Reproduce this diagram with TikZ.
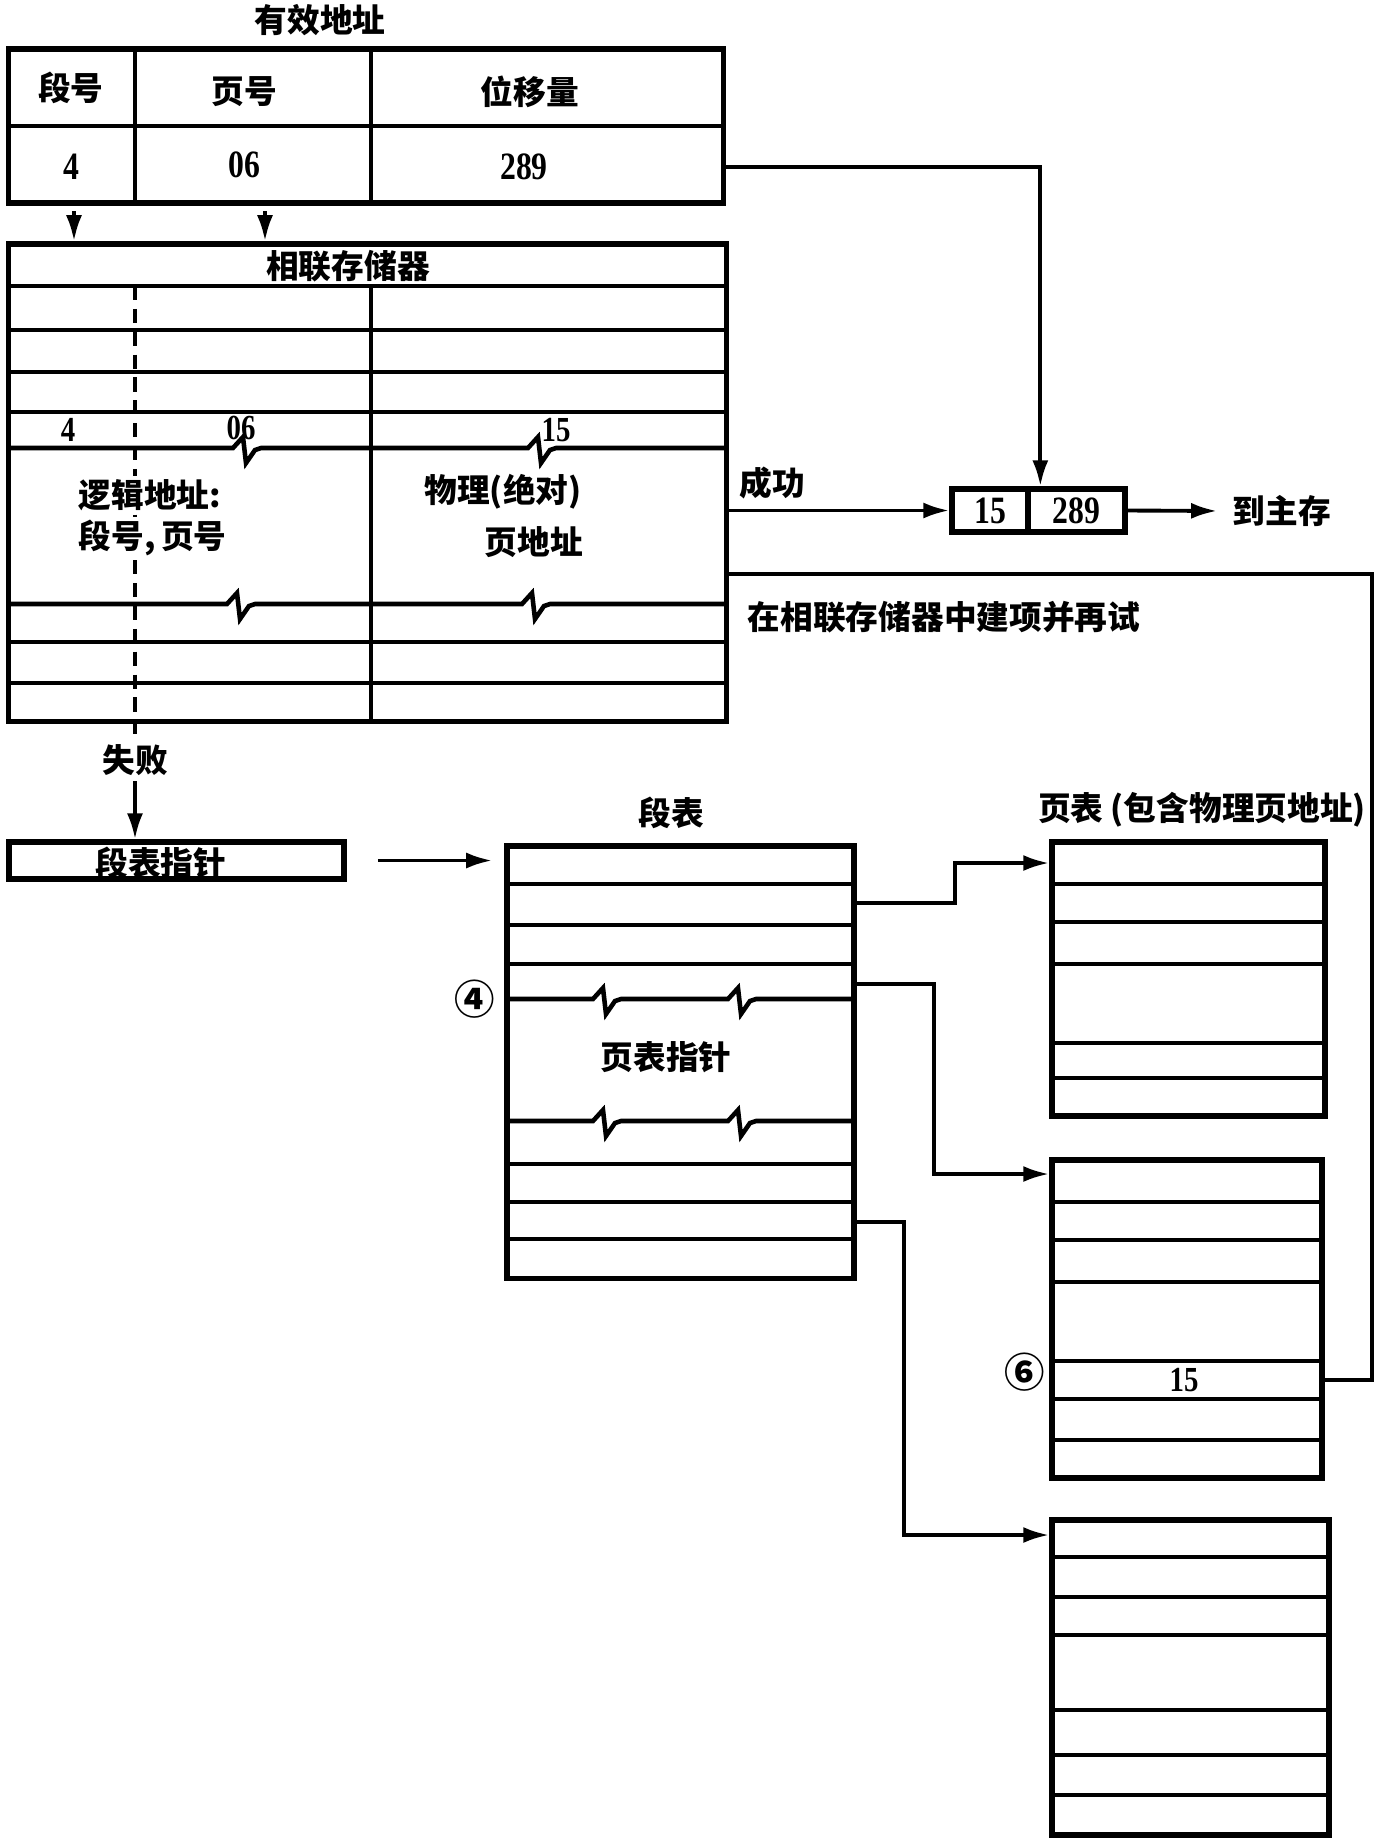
\documentclass[tikz,border=0pt]{standalone}
\usepackage{fontspec}
\setmainfont{Liberation Serif}
\newfontfamily\cjk{Noto Sans CJK SC}
\newfontfamily\numf{Liberation Serif}[FakeStretch=0.82]
\usepackage{tikz}
\usetikzlibrary{arrows.meta,calc}

\newcommand{\zig}[2]{-- ({#1-14},#2) -- ({#1-4},{#2-11}) -- ({#1-1},{#2+15}) -- ({#1+8},{#2+2}) -- ({#1+14},#2)}

\begin{document}
\begin{tikzpicture}[
  x=0.01cm, y=-0.01cm,
  line width=1.3pt,
  tbl/.style={draw, line width=1.5pt, inner sep=0pt},
  cn/.style={font=\cjk\bfseries\fontsize{9.3}{11}\selectfont, inner sep=1pt},
  circ/.style={font=\cjk\bfseries\fontsize{11.5}{13}\selectfont, inner sep=1pt},
  num/.style={font=\numf\bfseries\fontsize{11}{12}\selectfont},
  sm/.style={font=\numf\bfseries\fontsize{10}{11}\selectfont, inner sep=1pt},
  arr/.style={line width=1.1pt, -{Latex[length=2.6mm,width=1.6mm]}},
  link/.style={line width=1.1pt}
]
\useasboundingbox (0,0) rectangle (1375,1847);

% effective address
\node[cn] (title) at (320,20) {有效地址};
\node[tbl, minimum width=7.14cm, minimum height=1.54cm] (addr) at (366,126) {};
\draw (9,126) -- (723,126);
\draw (135,49) -- (135,203);
\draw (371,49) -- (371,203);
\node[cn] (sh) at (71,88) {段号};
\node[cn] (ph) at (244,92) {页号};
\node[cn] (dh) at (530,92) {位移量};
\node[num] (sn) at (71,167) {4};
\node[num] (pn) at (244,165) {06};
\node[num] (off) at (524,167) {289};

% associative memory
\node[tbl, minimum width=7.17cm, minimum height=4.77cm] (assoc) at (367.5,482.5) {};
\node[cn] (amem) at (348,266) {相联存储器};
\draw (9,286) -- (726,286);
\foreach \y in {330,372,412,642,683}
  \draw (9,\y) -- (726,\y);
\draw (9,448) \zig{247}{448} \zig{542}{448} -- (726,448);
\draw (9,604) \zig{241}{604} \zig{536}{604} -- (726,604);
\draw (371,286) -- (371,721);

\coordinate (a1) at (74,211);
\coordinate (a2) at (265,211);
\draw[arr] (a1) -- (a1 |- assoc.north);
\draw[arr] (a2) -- (a2 |- assoc.north);

\node[cn] (fail) at (135,760) {失败};
\coordinate (lk) at (135,286);
\draw[link, dash pattern=on 4pt off 2.5pt] (lk) -- (fail.north);

\node[sm] (k4) at (68,430) {4};
\node[sm] (k06) at (241,428) {06};
\node[sm] (p15) at (556,430) {15};
\node[cn, anchor=west, fill=white] (lg1) at (73,495) {逻辑地址:};
\node[cn, anchor=west, fill=white] (lg2) at (73,538) {段号,\,页号};
\node[cn] (ph1) at (503,492) {物理(绝对)};
\node[cn] (ph2) at (534,542) {页地址};

% result
\node[cn] (ok) at (772,483) {成功};
\node[tbl, num, minimum width=0.76cm, minimum height=0.43cm] (r15) at (990,510.5) {15};
\node[tbl, num, minimum width=0.97cm, minimum height=0.43cm] (r289) at (1076.5,510.5) {289};
\node[cn] (mm) at (1282,511) {到主存};
\node[cn, anchor=west] (retry) at (742,617) {在相联存储器中建项并再试};

\draw[arr] (addr.east |- off) -| ([xshift=0.15cm]r289.north west);
\draw[arr] (assoc.east |- r15) -- (r15.west);
\draw[arr, shorten >=0.1cm] (r289.east) -- (mm.west);

% segment table pointer
\node[tbl, minimum width=3.35cm, minimum height=0.37cm] (stp) at (176.5,860.5) {};
\node[cn] (stpt) at (161,863) {段表指针};
\draw[arr] (fail.south) -- (stp.north -| fail);

% segment table
\node[cn] (segl) at (671,813) {段表};
\node[tbl, minimum width=3.47cm, minimum height=4.32cm] (seg) at (680.5,1062) {};
\foreach \y in {884,925,964,1164,1202,1239}
  \draw (507,\y) -- (854,\y);
\draw (507,999) \zig{607}{999} \zig{742}{999} -- (854,999);
\draw (507,1121) \zig{607}{1121} \zig{742}{1121} -- (854,1121);
\node[cn] (ptp) at (666,1057) {页表指针};
\node[circ] (c4) at (475,999) {④};
\draw[arr, shorten <=0.31cm, shorten >=0.12cm] (stp.east) -- (seg.west |- stp.east);

% page tables
\node[cn] (ptl) at (1202,810) {页表 (包含物理页地址)};
\node[tbl, minimum width=2.73cm, minimum height=2.74cm] (pt1) at (1188.5,979) {};
\foreach \y in {884,922,964,1043,1078}
  \draw (1052,\y) -- (1325,\y);
\node[tbl, minimum width=2.70cm, minimum height=3.18cm] (pt2) at (1187,1319) {};
\foreach \y in {1202,1240,1282,1361,1399,1440}
  \draw (1052,\y) -- (1322,\y);
\node[sm] (v15) at (1184,1380) {15};
\node[circ] (c6) at (1025,1372) {⑥};
\node[tbl, minimum width=2.77cm, minimum height=3.15cm] (pt3) at (1190.5,1677.5) {};
\foreach \y in {1557,1597,1635,1710,1755,1795}
  \draw (1052,\y) -- (1329,\y);

\draw[arr] (seg.east |- 0,903) -- ++(98,0) |- (pt1.west |- 0,863);
\draw[arr] (seg.east |- 0,984) -- ++(77,0) |- (pt2.west |- 0,1174);
\draw[arr] (seg.east |- 0,1222) -- ++(47,0) |- (pt3.west |- 0,1535);
\draw[link] (pt2.east |- v15) -- ++(47,0) |- (assoc.east |- 0,574);

\end{tikzpicture}
\end{document}
